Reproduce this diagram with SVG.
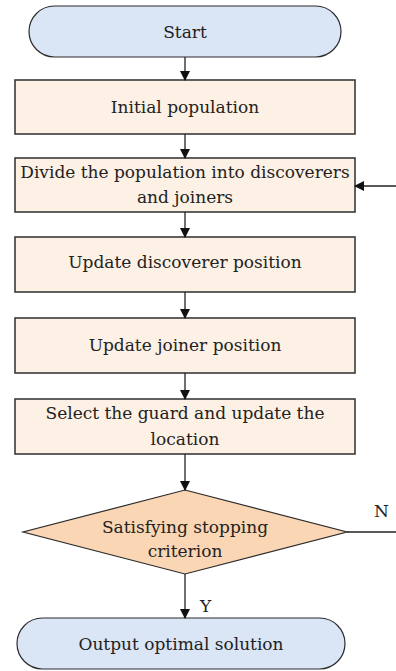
<svg xmlns="http://www.w3.org/2000/svg" width="396" height="671" viewBox="0 0 396 671">
<style>
.term{fill:#dae5f6;stroke:#2b2b2b;stroke-width:1.2}
.box{fill:#fdf0e4;stroke:#3a3a3a;stroke-width:1.6}
.dec{fill:#fad6b5;stroke:#2b2b2b;stroke-width:1.2}
.t{font-family:'DejaVu Serif','Liberation Serif',serif;font-size:17px;fill:#222;text-anchor:middle}
.lbl{font-family:'DejaVu Serif','Liberation Serif',serif;font-size:17px;fill:#222}
.c{stroke:#222;stroke-width:1.3;fill:none}
</style>
<defs>
<marker id="ah" markerWidth="10" markerHeight="10" refX="9" refY="5" orient="auto" markerUnits="userSpaceOnUse">
<path d="M0,0 L10,5 L0,10 z" fill="#111"/>
</marker>
</defs>
<g id="start"><rect class="term" x="29" y="6" width="312" height="51" rx="25.5"/><text class="t" x="185" y="38">Start</text></g>
<g id="init"><rect class="box" x="15" y="80" width="340" height="54"/><text class="t" x="185" y="113">Initial population</text></g>
<g id="divide"><rect class="box" x="15" y="158" width="340" height="54"/><text class="t" x="185" y="178">Divide the population into discoverers</text><text class="t" x="185" y="203">and joiners</text></g>
<g id="discoverer"><rect class="box" x="15" y="237" width="340" height="55"/><text class="t" x="185" y="268">Update discoverer position</text></g>
<g id="joiner"><rect class="box" x="15" y="318" width="340" height="55"/><text class="t" x="185" y="351">Update joiner position</text></g>
<g id="guard"><rect class="box" x="15" y="399" width="340" height="55"/><text class="t" x="185" y="419">Select the guard and update the</text><text class="t" x="185" y="445">location</text></g>
<g id="decision"><polygon class="dec" points="185,490 347,532 185,574 23,532"/><text class="t" x="185" y="533">Satisfying stopping</text><text class="t" x="185" y="557">criterion</text></g>
<g id="output"><rect class="term" x="17" y="618" width="328" height="51" rx="25.5"/><text class="t" x="181" y="650">Output optimal solution</text></g>
<g id="connectors">
<line class="c" x1="185" y1="57" x2="185" y2="80" marker-end="url(#ah)"/>
<line class="c" x1="185" y1="134" x2="185" y2="158" marker-end="url(#ah)"/>
<line class="c" x1="185" y1="212" x2="185" y2="237" marker-end="url(#ah)"/>
<line class="c" x1="185" y1="292" x2="185" y2="318" marker-end="url(#ah)"/>
<line class="c" x1="185" y1="373" x2="185" y2="399" marker-end="url(#ah)"/>
<line class="c" x1="185" y1="454" x2="185" y2="490" marker-end="url(#ah)"/>
<line class="c" x1="185" y1="574" x2="185" y2="618" marker-end="url(#ah)"/>
<line class="c" x1="347" y1="532" x2="396" y2="532"/>
<line class="c" x1="396" y1="186" x2="355" y2="186" marker-end="url(#ah)"/>
<text class="lbl" x="374" y="517">N</text>
<text class="lbl" x="200" y="612">Y</text>
</g>
</svg>
